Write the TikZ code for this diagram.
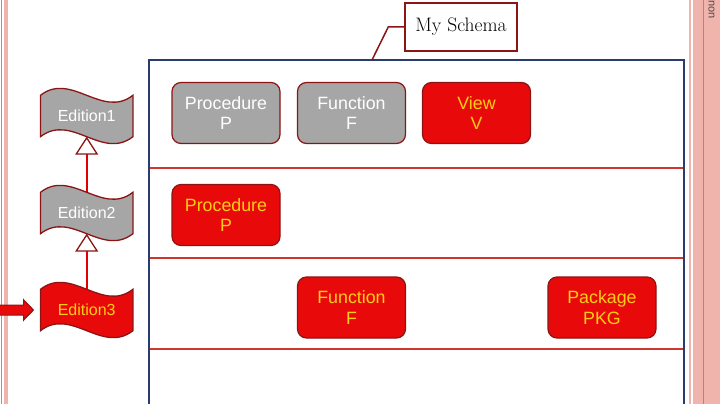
\documentclass[tikz,border=0pt]{standalone}
\usepackage{fontspec}
\newfontfamily\arialfont{Liberation Sans}
\usetikzlibrary{arrows.meta,backgrounds}

\definecolor{objgray}{RGB}{166,166,166}
\definecolor{objred}{RGB}{232,10,10}
\definecolor{objedge}{RGB}{140,20,20}
\definecolor{objtext}{RGB}{255,205,20}
\definecolor{frameblue}{RGB}{40,60,110}
\definecolor{rowred}{RGB}{205,55,45}
\definecolor{linkred}{RGB}{225,0,0}
\definecolor{rimpink}{RGB}{240,180,172}

% wave flag drawn round an edition node
\newcommand{\editionwave}[2]{%
  \draw[draw=objedge, line width=1.3pt, fill=#2]
    (#1.north west) .. controls +(30.7,-24) and +(-30.7,24) .. (#1.north east)
    -- (#1.south east) .. controls +(-30.7,24) and +(30.7,-24) .. (#1.south west) -- cycle;}

\begin{document}
\begin{tikzpicture}[x=1pt, y=-1pt,
    obj/.style={rounded corners=9pt, draw=objedge, line width=1.2pt, minimum width=108pt,
      minimum height=61pt, align=center, inner sep=0pt,
      font=\arialfont\fontsize{17.8}{20.6}\selectfont},
    oldobj/.style={obj, fill=objgray, text=white},
    newobj/.style={obj, fill=objred, text=objtext},
    edition/.style={minimum width=92pt, minimum height=41pt, inner sep=0pt,
      font=\arialfont\fontsize{16}{18}\selectfont},
    link/.style={linkred, line width=2pt,
      -{Triangle[length=18pt, width=23pt, fill=white, color=objedge, line width=1.3pt]}}]
    \useasboundingbox (0,0) rectangle (720,404);
    \clip (0,0) rectangle (720,404);

    % Slide rims
    \fill[black!40] (0.8,0) rectangle (2.3,404);
    \fill[rimpink] (4,0) rectangle (7.5,404);
    \fill[rimpink] (689,0) rectangle (691,404);
    \fill[rimpink] (693,0) rectangle (720,404);
    \draw[rowred!70, line width=0.8pt] (703,0) -- (703,404);
    \node[rotate=-90, anchor=east, inner sep=0pt, text=black!70,
      font=\arialfont\fontsize{11}{12}\selectfont] (tag) at (711.5,19) {non};

    % Schema frame and rows
    \draw[frameblue, line width=2pt] (149,60) rectangle (684,430);
    \foreach \y in {168,258,349}
      \draw[rowred, line width=2pt] (150,\y) -- (683,\y);

    % Callout
    \node[draw=objedge, line width=1.5pt, minimum width=112pt, minimum height=48pt,
      inner sep=0pt, font=\fontsize{19.5}{22}\selectfont] (schema) at (461,27) {My Schema};
    \coordinate (hook) at (372,60);
    \draw[objedge, line width=1.5pt] (schema.west) -- ++(-16,0) -- (hook);

    % Objects per edition
    \node[oldobj] (proc1) at (226,113) {Procedure\\P};
    \node[oldobj] (func1) at (351.5,113) {Function\\F};
    \node[newobj] (view1) at (476.5,113) {View\\V};
    \node[newobj] (proc2) at (226,215) {Procedure\\P};
    \node[newobj] (func3) at (351.5,307.5) {Function\\F};
    \node[newobj] (pkg3) at (602,307.5) {Package\\PKG};

    % Editions
    \node[edition, text=white] (ed1) at (86.7,116) {Edition1};
    \node[edition, text=white] (ed2) at (86.7,213) {Edition2};
    \node[edition, text=objtext] (ed3) at (86.7,310) {Edition3};
    \begin{scope}[on background layer]
      \editionwave{ed1}{objgray}
      \editionwave{ed2}{objgray}
      \editionwave{ed3}{objred}
    \end{scope}
    \draw[link] (ed2.north) -- (ed1.south);
    \draw[link] (ed3.north) -- (ed2.south);

    % Current edition marker
    \draw[fill=objred, draw=objedge, line width=1pt] ([xshift=-7pt]ed3.west)
      -- ++(-10,-10.3) -- ++(0,5.3) -- ++(-30,0) -- ++(0,10) -- ++(30,0) -- ++(0,5.3) -- cycle;
\end{tikzpicture}
\end{document}
